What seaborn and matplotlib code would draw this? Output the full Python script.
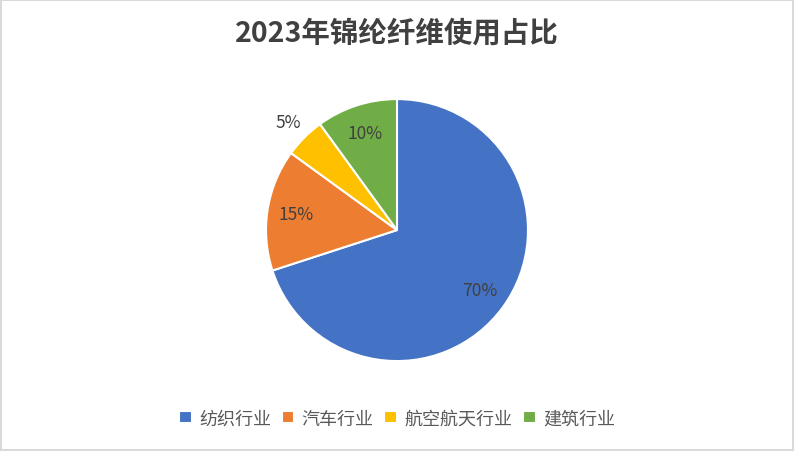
import numpy as np
import matplotlib
matplotlib.use("Agg")
import matplotlib.pyplot as plt
import seaborn as sns

# data
industries = ["纺织行业", "汽车行业", "航空航天行业", "建筑行业"]
shares = [70, 15, 5, 10]
colors = ["#4472C4", "#ED7D31", "#FFC000", "#70AD47"]
title = "2023年锦纶纤维使用占比"

sns.set_theme(style="white")
plt.rcParams["font.family"] = ["Noto Sans CJK SC", "DejaVu Sans"]

fig = plt.figure(figsize=(7.94, 4.52), dpi=100)
fig.patch.set_facecolor("white")
fig.patch.set_edgecolor("#D9D9D9")
fig.patch.set_linewidth(1.5)

ax = fig.add_axes([0.335, 0.199, 0.33, 0.5796])
wedges, texts, autotexts = ax.pie(
    shares, colors=colors, startangle=90, counterclock=False,
    autopct="%d%%", pctdistance=0.78,
    wedgeprops=dict(edgecolor="white", linewidth=1.5),
    textprops=dict(color="#404040", fontsize=12.5),
)
ax.set_aspect("equal")
ax.set_xlim(-1, 1)
ax.set_ylim(-1, 1)

# small slice label goes outside
for w, t, v in zip(wedges, autotexts, shares):
    if v < 8:
        ang = np.deg2rad((w.theta1 + w.theta2) / 2)
        t.set_position((1.17 * np.cos(ang), 1.17 * np.sin(ang)))

fig.text(0.5, 0.925, title, ha="center", va="center", fontsize=20.5,
         fontweight="bold", color="#404040")

fig.legend(wedges, industries, loc="center", bbox_to_anchor=(0.5, 0.072),
           ncol=4, frameon=False, fontsize=13, handlelength=0.7,
           handleheight=0.7, handletextpad=0.4, columnspacing=0.6,
           labelcolor="#595959")

fig.savefig("out.png", dpi=100)
